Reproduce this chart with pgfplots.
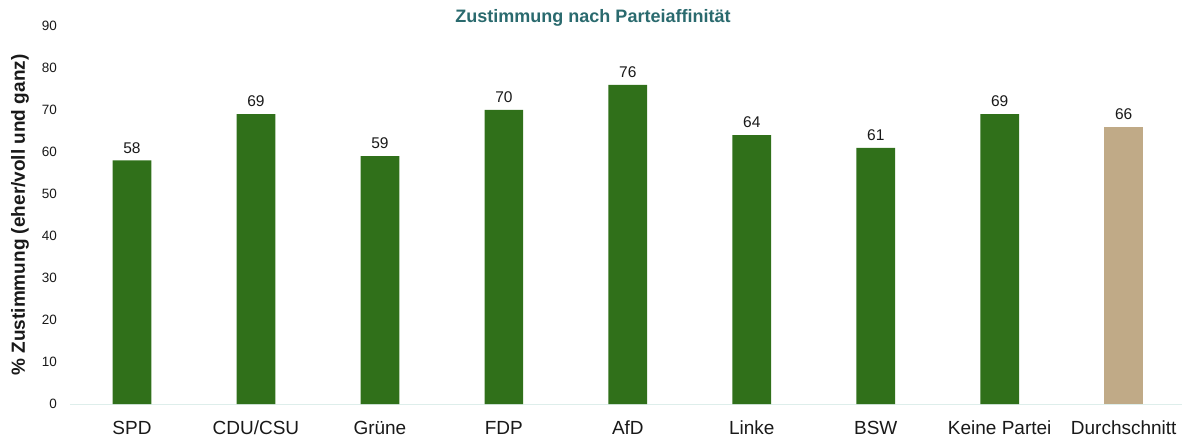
\documentclass[border=0pt]{standalone}
\usepackage{fontspec}
\setmainfont{Liberation Sans}
\usepackage{pgfplots}
\pgfplotsset{compat=1.18}
\definecolor{bargreen}{RGB}{48,112,26}
\definecolor{bartan}{RGB}{192,170,135}
\definecolor{titleteal}{RGB}{42,106,110}
\definecolor{axisline}{RGB}{222,238,235}
\definecolor{txt}{RGB}{25,25,25}
\begin{document}
\begin{tikzpicture}
\useasboundingbox (0,0) rectangle (1182pt,436pt);
\begin{axis}[
  at={(70pt,32pt)}, anchor=south west,
  scale only axis, width=1112pt, height=378pt,
  xmin=-0.5, xmax=8.47, ymin=0, ymax=90,
  ybar, bar width=38.7pt, bar shift=0pt,
  axis x line*=bottom, axis y line*=left,
  x axis line style={color=axisline, line width=1pt, -},
  y axis line style={draw=none},
  xtick={0,1,2,3,4,5,6,7,8},
  xticklabels={SPD,CDU/CSU,Grüne,FDP,AfD,Linke,BSW,Keine Partei,Durchschnitt},
  ytick={0,10,...,90},
  major tick length=0pt,
  tick style={draw=none},
  /pgf/number format/assume math mode=true,
  xticklabel style={font=\fontsize{19}{19}\selectfont, text=txt, anchor=north, inner sep=0pt, yshift=-16pt, text height=14pt, text depth=0pt},
  yticklabel style={font=\fontsize{13.5}{13.5}\selectfont, text=txt, anchor=east, inner sep=0pt, xshift=-13pt},
  ylabel={\% Zustimmung (eher/voll und ganz)},
  every axis y label/.style={at={(axis description cs:-0.045,0.5)}, rotate=90, anchor=center, font=\bfseries\fontsize{19}{19}\selectfont, text=txt},
  nodes near coords,
  every node near coord/.append style={font=\fontsize{15.5}{15.5}\selectfont, text=txt, anchor=south, inner sep=0pt, yshift=7pt},
  clip=false,
]
\addplot[fill=bargreen, draw=none] coordinates {(0,58) (1,69) (2,59) (3,70) (4,76) (5,64) (6,61) (7,69)};
\addplot[fill=bartan, draw=none] coordinates {(8,66)};
\end{axis}
\node[font=\bfseries\fontsize{18}{18}\selectfont, text=titleteal, anchor=center] at (593pt,418pt) {Zustimmung nach Parteiaffinität};
\end{tikzpicture}
\end{document}
